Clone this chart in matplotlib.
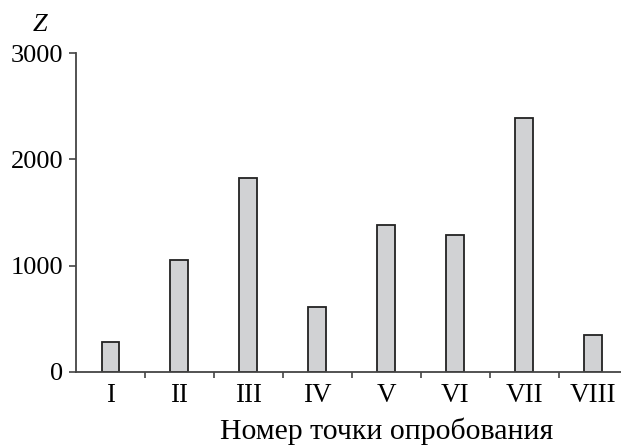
import matplotlib.pyplot as plt
import numpy as np

points = ['I', 'II', 'III', 'IV', 'V', 'VI', 'VII', 'VIII']
z = [284, 1050, 1820, 612, 1387, 1284, 2393, 347]

plt.rcParams['font.family'] = 'Liberation Serif'

W, H = 621, 446
fig = plt.figure(figsize=(W / 100, H / 100), dpi=100)
# axes box in pixels: x 76..627, y 53..372
ax = fig.add_axes([76 / W, 1 - 372 / H, (627.5 - 76) / W, (372 - 53) / H])

x = np.arange(1, len(points) + 1)
ax.bar(x, z, width=0.26, color='#d1d2d4', edgecolor='#222222', linewidth=1.3)

ax.set_xlim(0.5, 8.5)
ax.set_ylim(0, 3000)
ax.set_yticks([0, 1000, 2000, 3000])
ax.set_xticks(x)
ax.set_xticklabels(points)
ax.set_xticks(np.arange(1.5, 8.5, 1), minor=True)

for s in ['top', 'right']:
    ax.spines[s].set_visible(False)
for s in ['left', 'bottom']:
    ax.spines[s].set_color('#444444')
    ax.spines[s].set_linewidth(1.3)

ax.tick_params(axis='y', direction='out', length=5, width=1.2, color='#444444',
               labelsize=19, pad=4)
ax.tick_params(axis='x', which='major', length=0, labelsize=19.5, pad=8)
ax.tick_params(axis='x', which='minor', direction='out', length=4.5, width=1.2,
               color='#444444')

ax.set_xlabel('Номер точки опробования', fontsize=21.5)
ax.xaxis.set_label_coords((386.5 - 76) / 551.5, -0.144)
fig.text(40 / W, 1 - 25 / H, 'Z', fontsize=19, style='italic',
         ha='center', va='center')

fig.savefig('out.png', dpi=100)
